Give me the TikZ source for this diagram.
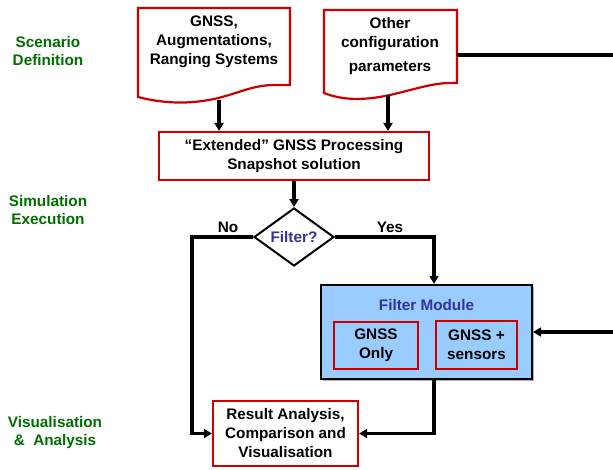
\documentclass[tikz,border=0pt]{standalone}
\usepackage{fontspec}
\setmainfont{Liberation Sans}
\usetikzlibrary{arrows.meta,shapes.geometric,shadows}
\definecolor{boxred}{RGB}{204,0,0}
\definecolor{labgreen}{RGB}{0,110,0}
\definecolor{txtblue}{RGB}{51,51,153}
\definecolor{fmblue}{RGB}{153,204,255}
\tikzset{
  every node/.style={font=\fontsize{15.3}{19}\selectfont\bfseries, align=center, inner sep=0pt},
  redbox/.style={draw=boxred, line width=2.2pt, fill=white, rectangle},
  docpath/.style={draw=boxred, line width=2.2pt, fill=white, line join=miter},
  conn/.style={line width=3.3pt, draw=black},
  arr/.style={conn, -{Triangle[length=8pt,width=9pt]}},
  phase/.style={text=labgreen},
}
\begin{document}
\begin{tikzpicture}[x=1pt,y=-1pt]
\useasboundingbox (0,0) rectangle (613,469);
% document shapes
\draw[docpath] (138,8) -- (290,8) -- (290,85) -- (272,85)
  .. controls (250,86) and (240,93) .. (214,99)
  .. controls (190,104) and (165,104) .. (138,97) -- cycle;
\draw[docpath] (324,10) -- (457,10) -- (457,83)
  .. controls (435,82) and (420,88) .. (390,95)
  .. controls (362,101) and (342,100) .. (324,93) -- cycle;
\node (d1) at (214,42) {GNSS,\\Augmentations,\\Ranging Systems};
\node (d2) at (390,46) {Other\\configuration\\[5pt]parameters};
\coordinate (d1b) at (219,100);
\coordinate (d2b) at (388,95);
\coordinate (d2r) at (457,55);
\coordinate (edge1) at (613,55);
\coordinate (edge2) at (613,332);
% labels
\node[phase] (p1) at (48,51) {Scenario\\[-1pt]Definition};
\node[phase] (p2) at (48,210) {Simulation\\[-1pt]Execution};
\node[phase] (p3) at (55,433) {Visualisation\\[-1pt]\&~~Analysis};
% processing box
\node[redbox, minimum width=270pt, minimum height=48pt] (ext) at (294,156)
  {\fontsize{15.3}{18}\selectfont ``Extended'' GNSS Processing\\Snapshot solution};
% diamond
\node[draw, line width=2pt, diamond, minimum width=80pt, minimum height=55pt, fill=white, text=txtblue] (dia) at (294,237) {Filter?};
% filter module
\node[draw, line width=2.2pt, fill=fmblue, minimum width=211pt, minimum height=94pt,
  drop shadow={shadow xshift=1.5pt, shadow yshift=-1.5pt, fill=gray!60, opacity=1}] (fm) at (426.5,332) {};
\node[text=txtblue] (fmt) at (426.5,305) {Filter Module};
\node[redbox, fill=fmblue, minimum width=84pt, minimum height=47pt] (g1) at (376,345.5) {GNSS\\Only};
\node[redbox, fill=fmblue, minimum width=81pt, minimum height=48pt] (g2) at (476.5,345) {GNSS +\\sensors};
% result box
\node[redbox, minimum width=145pt, minimum height=65pt] (res) at (285.5,433.5) {Result Analysis,\\Comparison and\\Visualisation};
% connectors
\draw[arr] (d1b) -- (d1b |- ext.north);
\draw[arr] (d2b) -- (d2b |- ext.north);
\draw[conn] (d2r) -- (edge1);
\draw[arr] (ext.south) -- (dia.north);
\draw[arr] (dia.west) -- ++(-61,0) coordinate (nocorner) |- (res.west);
\draw[arr] (dia.east) -| ([xshift=7.5pt]fm.north);
\draw[arr] ([xshift=7.5pt]fm.south) |- (res.east);
\draw[arr] (edge2) -- (fm.east);
\node (no) at (228,227) {No};
\node (yes) at (390,227) {Yes};
\end{tikzpicture}
\end{document}
